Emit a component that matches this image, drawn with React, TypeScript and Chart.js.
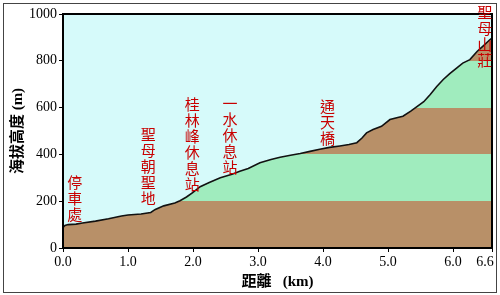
import React, { useEffect, useRef } from 'react';
import { Chart, registerables } from 'chart.js';

Chart.register(...registerables);

// Elevation profile (distance in km, elevation in m)
const distanceKm = [
  0.0, 0.03, 0.08, 0.2, 0.3, 0.5, 0.7, 0.9, 1.0, 1.2, 1.35, 1.42, 1.55, 1.72, 1.8, 1.9, 2.0, 2.11,
  2.25, 2.42, 2.6, 2.72, 2.85, 3.03, 3.2, 3.34, 3.5, 3.65, 3.8, 3.95, 4.1, 4.26, 4.4, 4.52,
  4.6, 4.67, 4.77, 4.9, 5.03, 5.15, 5.23, 5.35, 5.44, 5.55, 5.65, 5.75, 5.85, 5.95, 6.06,
  6.15, 6.26, 6.37, 6.47, 6.57, 6.6,
];
const elevationM = [
  88, 96, 100, 102, 107, 115, 125, 137, 141, 145, 152, 165, 180, 192, 202, 218, 238, 262,
  280, 300, 315, 328, 340, 364, 378, 388, 396, 404, 413, 422, 430, 436, 442, 450,
  470, 492, 506, 520, 549, 558, 563, 585, 603, 625, 656, 690, 720, 745, 770,
  790, 805, 840, 865, 891, 897,
];

const xTicks = [0, 1, 2, 3, 4, 5, 6, 6.6];
const yTicks = [0, 200, 400, 600, 800, 1000];

const bandEdges = [0, 200, 400, 600, 800, 1000];
const bandColors = ['#b89068', '#a0ecbe', '#b89068', '#a0ecbe', '#b89068'];

const stationNames = ['停車處', '聖母朝聖地', '桂林峰休息站', '一水休息站', '通天橋', '聖母山莊'];
const stationKm = [0.18, 1.31, 1.99, 2.57, 4.07, 6.49];
const stationTopM = [280, 485, 613, 617, 604, 1006];

const xTitle = '距離   (km)';
const yTitle = '海拔高度 (m)';

const SKY = '#d6fafa';

const framePlugin = {
  id: 'profileFrame',
  beforeDatasetsDraw(chart: any) {
    const { ctx, chartArea } = chart;
    ctx.save();
    ctx.fillStyle = SKY;
    ctx.fillRect(chartArea.left, chartArea.top, chartArea.right - chartArea.left, chartArea.bottom - chartArea.top);
    ctx.restore();
  },
  afterDatasetsDraw(chart: any) {
    const { ctx, chartArea } = chart;
    ctx.save();
    ctx.strokeStyle = '#000';
    ctx.lineWidth = 2;
    ctx.strokeRect(chartArea.left, chartArea.top, chartArea.right - chartArea.left, chartArea.bottom - chartArea.top);
    ctx.restore();
  },
  afterDraw(chart: any) {
    const { ctx, scales } = chart;
    ctx.save();
    ctx.fillStyle = '#c80000';
    ctx.font = "15px 'Noto Sans CJK TC', sans-serif";
    ctx.textAlign = 'center';
    ctx.textBaseline = 'middle';
    stationNames.forEach((name, i) => {
      const x = scales.x.getPixelForValue(stationKm[i]);
      const y0 = scales.y.getPixelForValue(stationTopM[i]);
      Array.from(name).forEach((ch, j) => {
        ctx.fillText(ch, x, y0 + j * 16);
      });
    });
    ctx.restore();
  },
};

export default function App() {
  const canvasRef = useRef<HTMLCanvasElement | null>(null);

  useEffect(() => {
    if (!canvasRef.current) return;
    const tickFont = { family: "'Liberation Serif', 'Times New Roman', serif", size: 14 };
    const titleFont = { family: "'Liberation Serif', 'Noto Sans CJK TC', serif", size: 15, weight: 'bold' as const };

    const chart = new Chart(canvasRef.current, {
      type: 'line',
      data: {
        datasets: [
          {
            data: distanceKm.map((x, i) => ({ x, y: elevationM[i] })),
            borderColor: '#111',
            borderWidth: 1.6,
            pointRadius: 0,
            tension: 0,
            fill: 'origin',
            backgroundColor: (context: any) => {
              const c = context.chart;
              const { ctx, chartArea, scales } = c;
              if (!chartArea || !scales.y) return bandColors[0];
              const y0 = scales.y.getPixelForValue(bandEdges[0]);
              const y1 = scales.y.getPixelForValue(bandEdges[bandEdges.length - 1]);
              const g = ctx.createLinearGradient(0, y0, 0, y1);
              const span = bandEdges[bandEdges.length - 1] - bandEdges[0];
              bandColors.forEach((col, i) => {
                g.addColorStop((bandEdges[i] - bandEdges[0]) / span, col);
                g.addColorStop((bandEdges[i + 1] - bandEdges[0]) / span, col);
              });
              return g;
            },
          },
        ],
      },
      options: {
        responsive: false,
        animation: false,
        layout: { padding: { top: 14, right: 8, left: 0, bottom: 0 } },
        plugins: { legend: { display: false }, tooltip: { enabled: false } },
        scales: {
          x: {
            type: 'linear',
            min: 0,
            max: 6.6,
            afterBuildTicks: (s: any) => {
              s.ticks = xTicks.map((v) => ({ value: v }));
            },
            afterFit: (s: any) => {
              s.height = 47;
              s.paddingLeft = 0;
              s.paddingRight = 0;
            },
            ticks: {
              autoSkip: false,
              maxRotation: 0,
              color: '#000',
              padding: 2,
              font: tickFont,
              callback: (v: any) => (Number(v) === 6.6 ? Number(v).toFixed(1) + '    ' : Number(v).toFixed(1)),
            },
            grid: { drawOnChartArea: false, drawTicks: true, tickLength: 4, color: '#000', lineWidth: 1 },
            border: { display: false },
            title: { display: true, text: xTitle, color: '#000', font: titleFont, padding: { top: 0, bottom: 4 } },
          },
          y: {
            type: 'linear',
            min: 0,
            max: 1000,
            afterBuildTicks: (s: any) => {
              s.ticks = yTicks.map((v) => ({ value: v }));
            },
            afterFit: (s: any) => {
              s.width = 63;
              s.paddingTop = 0;
              s.paddingBottom = 0;
            },
            ticks: { color: '#000', padding: 2, font: tickFont, callback: (v: any) => String(v) },
            grid: { drawOnChartArea: false, drawTicks: true, tickLength: 4, color: '#000', lineWidth: 1 },
            border: { display: false },
            title: { display: true, text: yTitle, color: '#000', font: titleFont, padding: { top: 9, bottom: 0 } },
          },
        },
      },
      plugins: [framePlugin],
    } as any);
    return () => chart.destroy();
  }, []);

  return (
    <div style={{ position: 'fixed', left: 0, top: 0, width: 500, height: 295, background: '#fff' }}>
      <div
        style={{
          position: 'absolute',
          left: 3,
          top: 3,
          width: 492,
          height: 288,
          border: '1px solid #444',
        }}
      />
      <canvas
        ref={canvasRef}
        width={500}
        height={295}
        style={{ position: 'absolute', left: 0, top: 0, width: 500, height: 295 }}
      />
    </div>
  );
}
